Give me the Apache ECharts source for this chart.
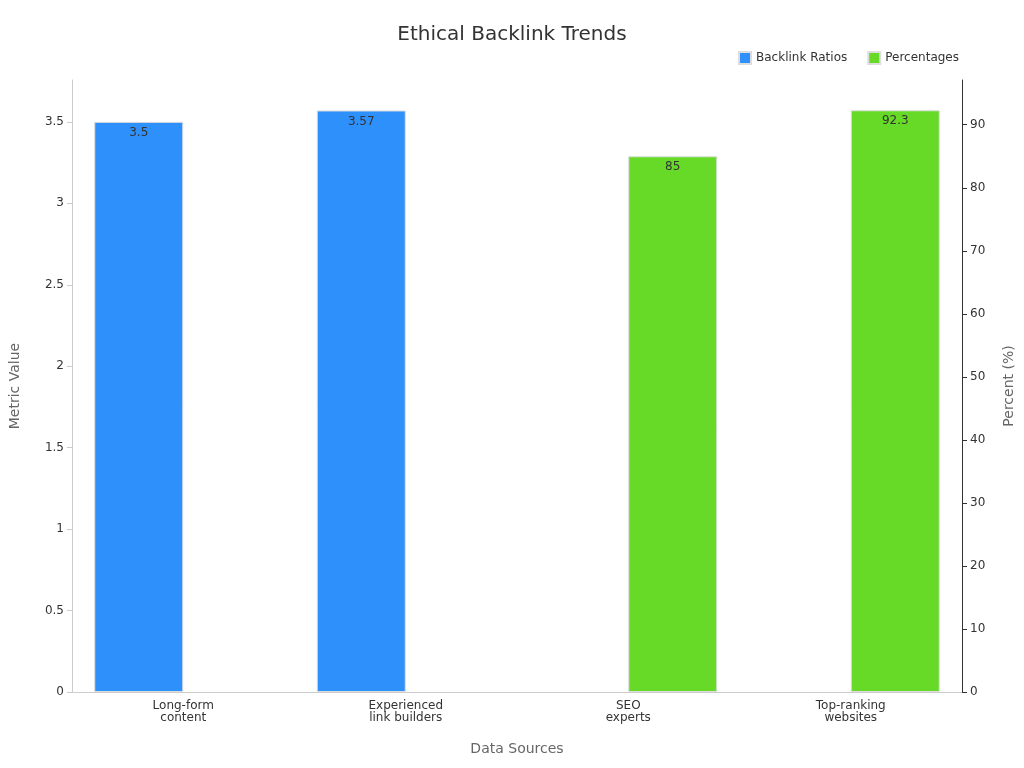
<!DOCTYPE html>
<html><head><meta charset="utf-8">
<script src="https://cdn.jsdelivr.net/npm/echarts@6/dist/echarts.min.js"></script>
<style>html,body{margin:0;padding:0}#c{width:1024px;height:768px}</style>
</head><body><div id="c"></div>
<script>
const categories = ["Long-form\ncontent", "Experienced\nlink builders", "SEO\nexperts", "Top-ranking\nwebsites"];
const backlinkRatios = [3.5, 3.57, null, null];
const percentages = [null, null, 85, 92.3];
const chart = echarts.init(document.getElementById('c'));
const font = "DejaVu Sans";
chart.setOption({
  textStyle: {fontFamily: font},
  title: {text: "Ethical Backlink Trends", left: 'center', top: 20, textStyle: {fontFamily: font, fontSize: 20, fontWeight: 'normal', color: '#333'}},
  legend: {top: 46, right: 60, itemWidth: 12, itemHeight: 12, itemGap: 20, textStyle: {fontFamily: font, fontSize: 12, color: '#333'},
    data: [{name: 'Backlink Ratios', icon: 'rect'}, {name: 'Percentages', icon: 'rect'}]},
  grid: {left: 65, right: 61, top: 80, bottom: 76},
  xAxis: {type: 'category', data: categories, name: 'Data Sources', nameLocation: 'middle', nameGap: 50,
    nameTextStyle: {fontSize: 14, color: '#666'},
    axisLine: {lineStyle: {color: '#ccc'}}, axisTick: {alignWithLabel: false, lineStyle: {color: '#ccc'}},
    axisLabel: {color: '#333', fontSize: 12, interval: 0}},
  yAxis: [
    {type: 'value', min: 0, max: 3.757, interval: 0.5, name: 'Metric Value', nameLocation: 'middle', nameGap: 50,
      nameTextStyle: {fontSize: 14, color: '#666'}, splitLine: {show: false},
      axisLine: {show: true, lineStyle: {color: '#ccc'}}, axisTick: {show: true, lineStyle: {color: '#ccc'}},
      axisLabel: {color: '#333', fontSize: 12, showMaxLabel: false}},
    {type: 'value', min: 0, max: 97.1, interval: 10, name: 'Percent (%)', nameLocation: 'middle', nameGap: 40,
      nameTextStyle: {fontSize: 14, color: '#666'}, splitLine: {show: false},
      axisLine: {show: true, lineStyle: {color: '#333'}}, axisTick: {show: true, lineStyle: {color: '#333'}},
      axisLabel: {color: '#333', fontSize: 12, showMaxLabel: false}}
  ],
  series: [
    {name: 'Backlink Ratios', type: 'bar', data: backlinkRatios, barWidth: 89, barGap: '0%',
      itemStyle: {color: '#2E90FA', borderColor: '#ddd', borderWidth: 1},
      label: {show: true, position: 'insideTop', color: '#333', fontSize: 12}},
    {name: 'Percentages', type: 'bar', yAxisIndex: 1, data: percentages, barWidth: 89, barGap: '0%',
      itemStyle: {color: '#66DA26', borderColor: '#ddd', borderWidth: 1},
      label: {show: true, position: 'insideTop', color: '#333', fontSize: 12}}
  ]
});
</script></body></html>
